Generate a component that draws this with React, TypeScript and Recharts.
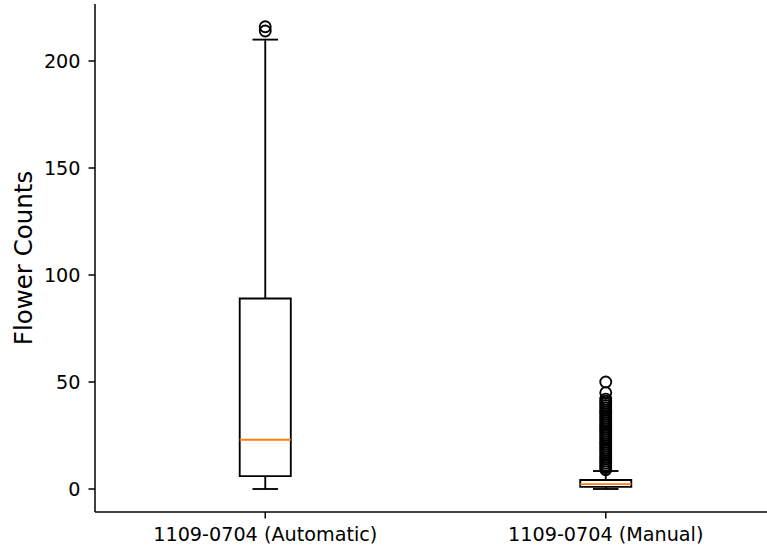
import { ComposedChart, XAxis, YAxis, Scatter, ReferenceArea, ReferenceLine } from 'recharts'

const categories = ['1109-0704 (Automatic)', '1109-0704 (Manual)']
const positions = [1, 2]
const whiskerLow = [0, 0]
const q1 = [6, 1]
const median = [23, 2.3]
const q3 = [89, 4.2]
const whiskerHigh = [210, 8.4]
const outliersAuto = [214, 216]
const outliersManual = [
  9, 10, 11, 12, 13, 14, 15, 16, 17, 18, 19, 20, 21, 22, 23, 24, 25, 26, 27, 28, 29, 30,
  31, 32, 33, 34, 35, 36, 37, 38, 39, 40, 41, 42, 45, 50,
]
const yTicks = [0, 50, 100, 150, 200]

const FONT = '"DejaVu Sans", sans-serif'
const BOX_HALF = 0.075
const CAP_HALF = 0.0375
const LW = 1.85

const outlierData = [
  ...outliersAuto.map((v) => ({ x: positions[0], y: v })),
  ...outliersManual.map((v) => ({ x: positions[1], y: v })),
]

const Circle = (props: any) => (
  <circle cx={props.cx} cy={props.cy} r={5.5} fill="none" stroke="#000" strokeWidth={LW} />
)

export default function App() {
  const axisStyle = { stroke: '#000', strokeWidth: 1.5 }
  const tickStyle = { fill: '#000', fontSize: 19.2, fontFamily: FONT }
  return (
    <div style={{ position: 'absolute', left: 0, top: 0, width: 767, height: 552, background: '#fff' }}>
      <ComposedChart width={767} height={552} margin={{ top: 4, right: -9, bottom: 0, left: 0 }}>
        <XAxis
          xAxisId="top"
          orientation="top"
          type="number"
          domain={[0.5, 2.5]}
          allowDataOverflow
          tick={false}
          tickLine={false}
          height={0}
          axisLine={axisStyle}
        />
        <XAxis
          dataKey="x"
          type="number"
          domain={[0.5, 2.5]}
          ticks={positions}
          allowDataOverflow
          tickFormatter={(v: number) => categories[positions.indexOf(v)] ?? ''}
          height={40}
          tickSize={6.5}
          tickMargin={8.5}
          axisLine={axisStyle}
          tickLine={axisStyle}
          tick={tickStyle}
        />
        <YAxis
          dataKey="y"
          type="number"
          domain={[-10.75, 226.64]}
          ticks={yTicks}
          allowDataOverflow
          width={95}
          tickSize={6.5}
          tickMargin={8}
          axisLine={axisStyle}
          tickLine={axisStyle}
          tick={tickStyle}
          label={{
            value: 'Flower Counts',
            angle: -90,
            position: 'insideLeft',
            offset: 23.5,
            style: { textAnchor: 'middle', fontSize: 24.5, fill: '#000', fontFamily: FONT },
          }}
        />
        {positions.map((p, i) => (
          <ReferenceLine
            key={`wl${i}`}
            segment={[{ x: p, y: whiskerLow[i] }, { x: p, y: q1[i] }]}
            stroke="#000"
            strokeWidth={LW}
          />
        ))}
        {positions.map((p, i) => (
          <ReferenceLine
            key={`wh${i}`}
            segment={[{ x: p, y: q3[i] }, { x: p, y: whiskerHigh[i] }]}
            stroke="#000"
            strokeWidth={LW}
          />
        ))}
        {positions.map((p, i) => (
          <ReferenceLine
            key={`cl${i}`}
            segment={[{ x: p - CAP_HALF, y: whiskerLow[i] }, { x: p + CAP_HALF, y: whiskerLow[i] }]}
            stroke="#000"
            strokeWidth={LW}
          />
        ))}
        {positions.map((p, i) => (
          <ReferenceLine
            key={`ch${i}`}
            segment={[{ x: p - CAP_HALF, y: whiskerHigh[i] }, { x: p + CAP_HALF, y: whiskerHigh[i] }]}
            stroke="#000"
            strokeWidth={LW}
          />
        ))}
        {positions.map((p, i) => (
          <ReferenceArea
            key={`box${i}`}
            x1={p - BOX_HALF}
            x2={p + BOX_HALF}
            y1={q1[i]}
            y2={q3[i]}
            fill="#fff"
            fillOpacity={0}
            stroke="#000"
            strokeWidth={LW}
            strokeOpacity={1}
          />
        ))}
        {positions.map((p, i) => (
          <ReferenceLine
            key={`med${i}`}
            segment={[{ x: p - BOX_HALF, y: median[i] }, { x: p + BOX_HALF, y: median[i] }]}
            stroke="#ff7f0e"
            strokeWidth={LW}
          />
        ))}
        <Scatter data={outlierData} shape={<Circle />} isAnimationActive={false} />
      </ComposedChart>
    </div>
  )
}
